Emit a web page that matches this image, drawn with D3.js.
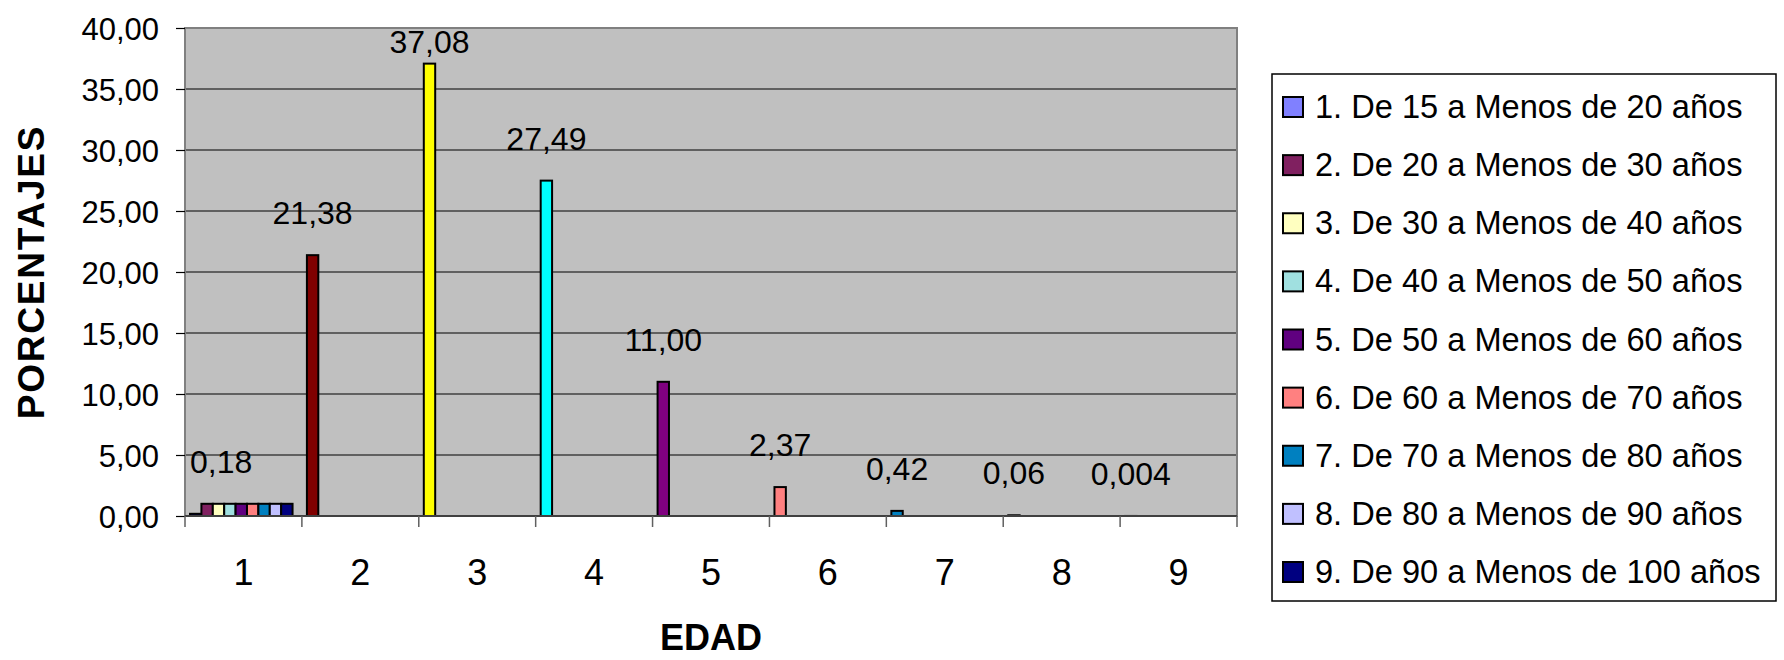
<!DOCTYPE html>
<html>
<head>
<meta charset="utf-8">
<script src="https://cdn.jsdelivr.net/npm/d3@7"></script>
<style>
  body { margin: 0; background: #fff; }
  svg text { font-family: "Liberation Sans", Arial, sans-serif; fill: #000; }
</style>
</head>
<body>
<div id="chart"></div>
<script>
// Categories (EDAD)
const categories = ["1", "2", "3", "4", "5", "6", "7", "8", "9"];

// Legend entries
const seriesNames = [
    "1. De 15 a Menos de 20 años",
    "2. De 20 a Menos de 30 años",
    "3. De 30 a Menos de 40 años",
    "4. De 40 a Menos de 50 años",
    "5. De 50 a Menos de 60 años",
    "6. De 60 a Menos de 70 años",
    "7. De 70 a Menos de 80 años",
    "8. De 80 a Menos de 90 años",
    "9. De 90 a Menos de 100 años"
];
const seriesColors = ["#8080FF", "#802060", "#FFFFC0", "#A0E0E0", "#600080",
                      "#FF8080", "#0080C0", "#C0C0FF", "#000080"];

// Main percentages, one per category (first slot of each group)
const mainValues = [0.18, 21.38, 37.08, 27.49, 11.00, 2.37, 0.42, 0.06, 0.004];
const mainLabels = ["0,18", "21,38", "37,08", "27,49", "11,00", "2,37", "0,42", "0,06", "0,004"];
const mainColors = ["#000080", "#800000", "#FFFF00", "#00FFFF", "#800080",
                    "#FF8080", "#0080C0", "#C0C0FF", "#000080"];

// Small bars of series 2..9 in category 1
const group1Values = [1, 1, 1, 1, 1, 1, 1, 1];

// Y axis ticks
const yTicks = [0, 5, 10, 15, 20, 25, 30, 35, 40];
const yTickLabels = ["0,00", "5,00", "10,00", "15,00", "20,00", "25,00", "30,00", "35,00", "40,00"];

const W = 1784, H = 660;
const plot = {left: 185, right: 1237, top: 28, bottom: 516};

const svg = d3.select("#chart").append("svg")
    .attr("width", W)
    .attr("height", H);

// Scales
const x = d3.scaleBand()
    .domain(categories)
    .range([plot.left, plot.right])
    .padding(0);

const slots = d3.range(9);
const x1 = d3.scaleBand()
    .domain(slots)
    .range([0, x.bandwidth()])
    .paddingInner(0)
    .paddingOuter(0.63)
    .align(0.35);

const y = d3.scaleLinear()
    .domain([0, 40])
    .range([plot.bottom, plot.top]);

// Plot background
svg.append("rect")
    .attr("x", plot.left)
    .attr("y", plot.top)
    .attr("width", plot.right - plot.left)
    .attr("height", plot.bottom - plot.top)
    .attr("fill", "#C0C0C0");

// Gridlines
svg.append("g")
    .selectAll("line")
    .data(yTicks.slice(1, -1))
    .join("line")
    .attr("x1", plot.left)
    .attr("x2", plot.right)
    .attr("y1", d => y(d))
    .attr("y2", d => y(d))
    .attr("stroke", "#000")
    .attr("stroke-width", 1.2);

// Bars: main series
const bars = svg.append("g");
bars.selectAll("rect.main")
    .data(mainValues)
    .join("rect")
    .attr("class", "main")
    .attr("x", (d, i) => x(categories[i]) + x1(0))
    .attr("y", d => y(d))
    .attr("width", x1.bandwidth())
    .attr("height", d => y(0) - y(d))
    .attr("fill", (d, i) => mainColors[i])
    .attr("stroke", "#000")
    .attr("stroke-width", 2);

// Bars: series 2..9 in category 1
bars.selectAll("rect.g1")
    .data(group1Values)
    .join("rect")
    .attr("class", "g1")
    .attr("x", (d, i) => x(categories[0]) + x1(i + 1))
    .attr("y", d => y(d))
    .attr("width", x1.bandwidth())
    .attr("height", d => y(0) - y(d))
    .attr("fill", (d, i) => seriesColors[i + 1])
    .attr("stroke", "#000")
    .attr("stroke-width", 2);

// Plot border
svg.append("rect")
    .attr("x", plot.left)
    .attr("y", plot.top)
    .attr("width", plot.right - plot.left)
    .attr("height", plot.bottom - plot.top)
    .attr("fill", "none")
    .attr("stroke", "#808080")
    .attr("stroke-width", 2);

svg.append("line")
    .attr("x1", plot.left).attr("x2", plot.right)
    .attr("y1", y(0)).attr("y2", y(0))
    .attr("stroke", "#000")
    .attr("stroke-width", 1.2);

// Y axis
const yAxis = svg.append("g")
    .attr("transform", `translate(${plot.left},0)`)
    .call(d3.axisLeft(y)
        .tickValues(yTicks)
        .tickSize(9)
        .tickPadding(17)
        .tickFormat((d, i) => yTickLabels[i]));
yAxis.select(".domain").remove();
yAxis.selectAll(".tick line").attr("stroke", "#000").attr("stroke-width", 1.2);
yAxis.selectAll(".tick text")
    .attr("font-size", 31)
    .attr("font-family", "'Liberation Sans', Arial, sans-serif")
    .attr("dy", "0.36em");

// X axis: ticks on category boundaries
const boundaries = categories.map(c => x(c)).concat([plot.right]);
svg.append("g")
    .selectAll("line")
    .data(boundaries)
    .join("line")
    .attr("x1", d => d).attr("x2", d => d)
    .attr("y1", plot.bottom).attr("y2", plot.bottom + 11)
    .attr("stroke", "#606060")
    .attr("stroke-width", 1.5);

svg.append("g")
    .selectAll("text")
    .data(categories)
    .join("text")
    .attr("x", d => x(d) + x.bandwidth() / 2)
    .attr("y", 585)
    .attr("text-anchor", "middle")
    .attr("font-size", 36)
    .text(d => d);

// Data labels above each group
const labels = svg.append("g")
    .selectAll("text")
    .data(mainValues)
    .join("text")
    .attr("font-size", 32)
    .attr("text-anchor", "middle")
    .text((d, i) => mainLabels[i]);

labels.each(function(d, i) {
    const groupMax = i === 0 ? Math.max(d, d3.max(group1Values)) : d;
    const w = this.getComputedTextLength();
    let cx = x(categories[i]) + x1(0) + x1.bandwidth() / 2;
    cx = Math.max(plot.left + 5 + w / 2, Math.min(plot.right - 5 - w / 2, cx));
    let by = y(groupMax) - 31;
    by = Math.max(plot.top + 25, by);
    d3.select(this).attr("x", cx).attr("y", by);
});

// Axis titles
svg.append("text")
    .attr("x", (plot.left + plot.right) / 2)
    .attr("y", 650)
    .attr("text-anchor", "middle")
    .attr("font-size", 36)
    .attr("font-weight", "bold")
    .text("EDAD");

svg.append("text")
    .attr("transform", `translate(44,${(plot.top + plot.bottom) / 2}) rotate(-90)`)
    .attr("text-anchor", "middle")
    .attr("font-size", 37)
    .attr("font-weight", "bold")
    .attr("letter-spacing", 1.8)
    .text("PORCENTAJES");

// Legend
const legend = {left: 1272, top: 74, right: 1776, bottom: 601};
svg.append("rect")
    .attr("x", legend.left)
    .attr("y", legend.top)
    .attr("width", legend.right - legend.left)
    .attr("height", legend.bottom - legend.top)
    .attr("fill", "#fff")
    .attr("stroke", "#000")
    .attr("stroke-width", 1.5);

const ly = d3.scalePoint()
    .domain(seriesNames)
    .range([107, 572]);

const items = svg.append("g")
    .selectAll("g")
    .data(seriesNames)
    .join("g")
    .attr("transform", d => `translate(${legend.left},${ly(d)})`);

items.append("rect")
    .attr("x", 11)
    .attr("y", -10)
    .attr("width", 20)
    .attr("height", 20)
    .attr("fill", (d, i) => seriesColors[i])
    .attr("stroke", "#000")
    .attr("stroke-width", 2);

items.append("text")
    .attr("x", 43)
    .attr("y", 11)
    .attr("font-size", 32.6)
    .text(d => d);
</script>
</body>
</html>
